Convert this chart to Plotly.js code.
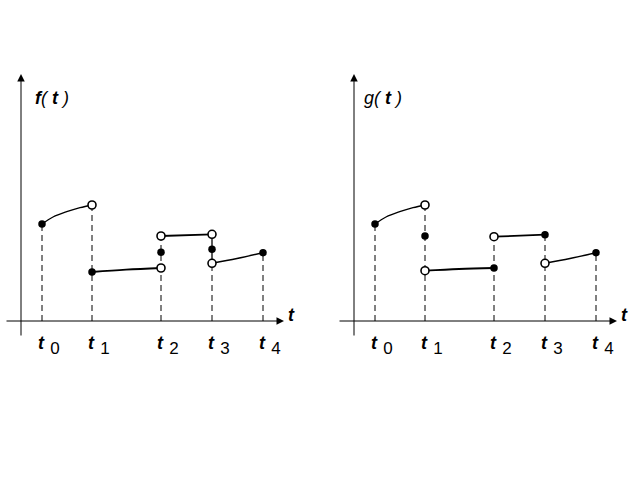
<!DOCTYPE html>
<html><head><meta charset="utf-8">
<script src="https://cdn.plot.ly/plotly-3.0.1.min.js"></script>
<style>html,body{margin:0;padding:0;background:#fff}</style>
</head><body><div id="chart" style="width:640px;height:480px"></div>
<script>
// ---- data (y = height above the t axis) ----
const tVals = [21, 71, 140, 191, 242];
const tickLetters = ['t', 't', 't', 't', 't'];
const tickDigits = ['0', '1', '2', '3', '4'];

// f(t)
const fSeg1X = [21, 32, 45.7, 59, 71];   const fSeg1Y = [97, 104, 109.3, 113.3, 116];
const fSeg2X = [71, 105, 140];           const fSeg2Y = [49, 51.3, 53];
const fSeg3X = [140, 191];               const fSeg3Y = [85, 86.7];
const fSeg4X = [191, 216, 242];          const fSeg4Y = [57.7, 62.5, 68.3];
const fJumpX = [191, 191];               const fJumpY = [57.7, 86.7];
const fFilledX = [21, 71, 140, 191, 242]; const fFilledY = [97, 49, 68.7, 71.7, 68.3];
const fOpenX = [71, 140, 140, 191, 191];  const fOpenY = [116, 85, 53, 86.7, 57.7];
const fDropTop = [97, 116, 85, 57.7, 68.3];

// g(t)
const gSeg1X = [21, 32, 45.7, 59, 71];   const gSeg1Y = [97, 104, 109.3, 113.3, 116];
const gSeg2X = [71, 105, 140];           const gSeg2Y = [50.3, 52, 53];
const gSeg3X = [140, 191];               const gSeg3Y = [84.3, 86.3];
const gSeg4X = [191, 216, 242];          const gSeg4Y = [57.7, 62.5, 68.3];
const gFilledX = [21, 71, 140, 191, 242]; const gFilledY = [97, 85, 53, 86.3, 68.3];
const gOpenX = [71, 71, 140, 191];        const gOpenY = [116, 50.3, 84.3, 57.7];
const gDropTop = [97, 116, 84.3, 86.3, 68.3];

// ---- build ----
const FONT = 'Liberation Sans, Arial, sans-serif';
function dropLines(tops) {
  const xs = [], ys = [];
  tVals.forEach((t, i) => { xs.push(t, t, null); ys.push(0, tops[i], null); });
  return {xs, ys};
}
function panel(xa, ya, segs, solids, filled, open, tops) {
  const tr = [];
  const d = dropLines(tops);
  tr.push({x: d.xs, y: d.ys, xaxis: xa, yaxis: ya, mode: 'lines', hoverinfo: 'skip',
    line: {color: '#000', width: 1, dash: '6px,4px'}});
  segs.forEach(s => tr.push({x: s[0], y: s[1], xaxis: xa, yaxis: ya, mode: 'lines', hoverinfo: 'skip',
    line: {color: '#000', width: s[2], shape: s[0].length > 2 ? 'spline' : 'linear'}}));
  solids.forEach(s => tr.push({x: s[0], y: s[1], xaxis: xa, yaxis: ya, mode: 'lines', hoverinfo: 'skip',
    line: {color: '#000', width: 1.3}}));
  tr.push({x: open[0], y: open[1], xaxis: xa, yaxis: ya, mode: 'markers', hoverinfo: 'skip',
    marker: {size: 8, color: '#fff', line: {color: '#000', width: 1.6}}});
  tr.push({x: filled[0], y: filled[1], xaxis: xa, yaxis: ya, mode: 'markers', hoverinfo: 'skip',
    marker: {size: 7.5, color: '#000', line: {width: 0}}});
  return tr;
}

const traces = [].concat(
  panel('x', 'y',
    [[fSeg1X, fSeg1Y, 1.3], [fSeg2X, fSeg2Y, 1.8], [fSeg3X, fSeg3Y, 1.8], [fSeg4X, fSeg4Y, 1.5]],
    [[fJumpX, fJumpY]], [fFilledX, fFilledY], [fOpenX, fOpenY], fDropTop),
  panel('x2', 'y2',
    [[gSeg1X, gSeg1Y, 1.3], [gSeg2X, gSeg2Y, 1.8], [gSeg3X, gSeg3Y, 1.8], [gSeg4X, gSeg4Y, 1.5]],
    [], [gFilledX, gFilledY], [gOpenX, gOpenY], gDropTop),
  // empty traces so the overlaid subscript axes get a subplot
  [{x: [], y: [], xaxis: 'x3', yaxis: 'y', mode: 'markers', hoverinfo: 'skip'},
   {x: [], y: [], xaxis: 'x4', yaxis: 'y2', mode: 'markers', hoverinfo: 'skip'}]
);

const letterText = tickLetters.map(s => '<b><i>' + s + '</i></b>');

function xAxis(domain, range) {
  return {domain: domain, range: range, anchor: 'free', position: 159 / 480,
    showgrid: false, zeroline: false, showline: false, ticks: '',
    tickmode: 'array', tickvals: tVals, ticktext: letterText,
    tickfont: {family: FONT, size: 18, color: '#000'}, ticklabelstandoff: 9, ticklabelshift: -1,
    fixedrange: true};
}
function subAxis(over, domain, range) {
  return {overlaying: over, domain: domain, range: range, anchor: 'free', position: 159 / 480,
    showgrid: false, zeroline: false, showline: false, ticks: '',
    tickmode: 'array', tickvals: tVals, ticktext: tickDigits,
    tickfont: {family: FONT, size: 17, color: '#000'}, ticklabelstandoff: 15, ticklabelshift: 13,
    fixedrange: true};
}
function yAxis() {
  return {domain: [0, 1], range: [-159, 321], visible: false, fixedrange: true};
}

function axisArrows(xr, yr) {
  return [
    {xref: xr, yref: yr, axref: xr, ayref: yr, x: 263, y: 0, ax: -16, ay: 0, text: '',
      showarrow: true, arrowhead: 2, arrowsize: 1.5, arrowwidth: 1, arrowcolor: '#000', standoff: 0},
    {xref: xr, yref: yr, axref: xr, ayref: yr, x: 0, y: 247, ax: 0, ay: -16, text: '',
      showarrow: true, arrowhead: 2, arrowsize: 1.5, arrowwidth: 1, arrowcolor: '#000', standoff: 0},
    {xref: xr, yref: yr, x: 270, y: 6, text: '<b><i>t</i></b>', showarrow: false,
      font: {family: FONT, size: 18, color: '#000'}}
  ];
}

const annotations = [].concat(
  axisArrows('x', 'y'), axisArrows('x2', 'y2'),
  [{xref: 'x', yref: 'y', x: 30.5, y: 223, text: '<i><b>f</b>( <b>t</b> )</i>', showarrow: false,
     font: {family: FONT, size: 18, color: '#000'}},
   {xref: 'x2', yref: 'y2', x: 29, y: 223, text: '<i>g( <b>t</b> )</i>', showarrow: false,
     font: {family: FONT, size: 18, color: '#000'}}]
);

const layout = {
  width: 640, height: 480, margin: {l: 0, r: 0, t: 0, b: 0},
  paper_bgcolor: '#fff', plot_bgcolor: '#fff', showlegend: false,
  xaxis: xAxis([0, 0.5], [-21, 299]),
  yaxis: yAxis(),
  xaxis2: xAxis([0.5, 1], [-34, 286]),
  yaxis2: Object.assign(yAxis(), {anchor: 'x2'}),
  xaxis3: subAxis('x', [0, 0.5], [-21, 299]),
  xaxis4: subAxis('x2', [0.5, 1], [-34, 286]),
  annotations: annotations
};

Plotly.newPlot('chart', traces, layout, {staticPlot: true, displayModeBar: false});
</script></body></html>
